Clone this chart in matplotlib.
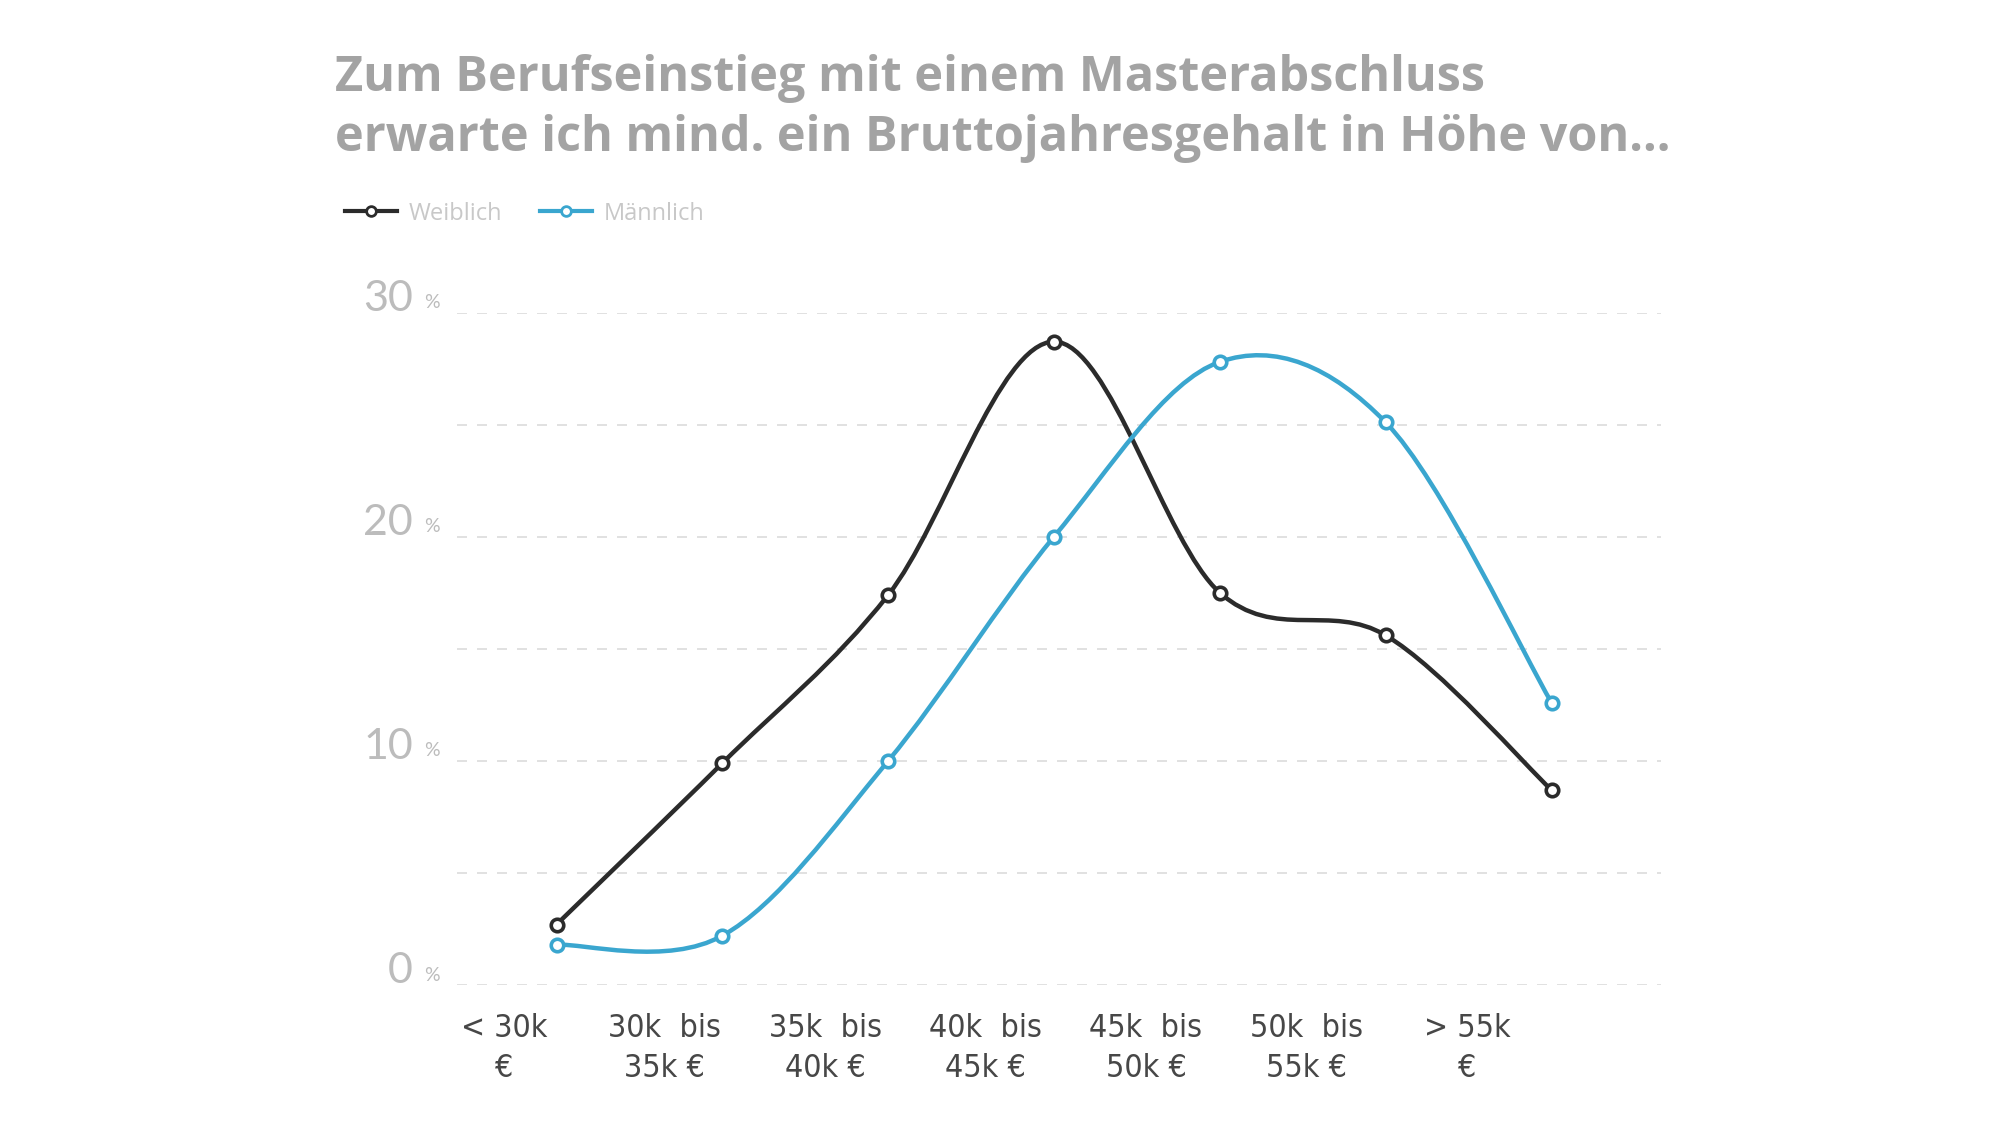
import numpy as np
import matplotlib
matplotlib.use("Agg")
import matplotlib.pyplot as plt
from matplotlib.path import Path
from matplotlib.patches import PathPatch
from matplotlib.lines import Line2D
import matplotlib.transforms as mtransforms

# --- Données ---
categories = ["< 30k\n€", "30k  bis\n35k €", "35k  bis\n40k €", "40k  bis\n45k €",
              "45k  bis\n50k €", "50k  bis\n55k €", "> 55k\n€"]
weiblich = [2.7, 9.9, 17.4, 28.7, 17.5, 15.6, 8.7]
maennlich = [1.8, 2.2, 10.0, 20.0, 27.8, 25.1, 12.6]
y_ticks = [0, 10, 20, 30]
grid_lines = [0, 5, 10, 15, 20, 25, 30]

titel = "Zum Berufseinstieg mit einem Masterabschluss\nerwarte ich mind. ein Bruttojahresgehalt in Höhe von..."

col_black = "#2b2b2b"
col_blue = "#3aa6cf"


def spline_path(xs, ys):
    # courbe cardinale (Catmull-Rom) en segments de Bézier
    pts = np.column_stack([xs, ys]).astype(float)
    n = len(pts)
    verts = [pts[0]]
    codes = [Path.MOVETO]
    for i in range(n - 1):
        p0 = pts[i - 1] if i > 0 else pts[i]
        p1 = pts[i]
        p2 = pts[i + 1]
        p3 = pts[i + 2] if i + 2 < n else pts[i + 1]
        c1 = p1 + (p2 - p0) / 6
        c2 = p2 - (p3 - p1) / 6
        verts += [c1, c2, p2]
        codes += [Path.CURVE4] * 3
    return Path(verts, codes)


fig = plt.figure(figsize=(20, 11.25), dpi=100)
ax = fig.add_axes([0.2285, 0.1244, 0.602, 0.5978])

x = np.arange(len(categories))

# grille pointillée
for g in grid_lines:
    ax.axhline(g, color="#dcdcdc", lw=1.2, ls=(0, (6, 6)), zorder=0)

for vals, col in [(weiblich, col_black), (maennlich, col_blue)]:
    ax.add_patch(PathPatch(spline_path(x, vals), fill=False, edgecolor=col, lw=3.2,
                           zorder=3, clip_on=False))
    ax.plot(x, vals, ls="none", marker="o", ms=9, mfc="white", mec=col, mew=2.6,
            zorder=4, clip_on=False)

ax.set_xlim(-0.6, 6.66)
ax.set_ylim(0, 30)
for s in ax.spines.values():
    s.set_visible(False)
ax.set_xticks([])
ax.set_yticks([])

# étiquettes de l'axe y : nombre + petit "%"
ytrans = mtransforms.blended_transform_factory(ax.transAxes, ax.transData)
for t in y_ticks:
    ax.annotate(str(t), xy=(0, t), xycoords=ytrans, xytext=(-44, 14), textcoords="offset pixels",
                ha="right", va="center", fontsize=31, color="#bcbcbc", family="Lato")
    ax.annotate("%", xy=(0, t), xycoords=ytrans, xytext=(-33, 10), textcoords="offset pixels",
                ha="left", va="center", fontsize=14, color="#bcbcbc", family="Lato")

# étiquettes des catégories (axe jumeau pour leur propre espacement)
ax2 = ax.twiny()
ax2.set_xlim(-0.293, 7.209)
ax2.set_xticks(x)
ax2.set_xticklabels(categories, fontsize=23, color="#474747",
                    family="DejaVu Sans", fontstretch="condensed", linespacing=1.4)
ax2.xaxis.set_ticks_position("bottom")
ax2.xaxis.set_label_position("bottom")
ax2.tick_params(axis="x", length=0, pad=20)
for s in ax2.spines.values():
    s.set_visible(False)

# titre
fig.text(0.1675, 0.952, titel, ha="left", va="top", fontsize=35, fontweight="bold",
         color="#a3a3a3", family="Open Sans", linespacing=1.3)

# légende
handles = [
    Line2D([], [], color=col_black, lw=3, marker="o", ms=7, mfc="white", mec=col_black, mew=2),
    Line2D([], [], color=col_blue, lw=3, marker="o", ms=7, mfc="white", mec=col_blue, mew=2),
]
fig.legend(handles, ["Weiblich", "Männlich"], loc="center left", bbox_to_anchor=(0.162, 0.81),
           ncol=2, frameon=False, labelcolor="#c8c8c8", handlelength=2.2,
           handletextpad=0.5, columnspacing=1.6, prop={"family": "Open Sans", "size": 17})

plt.savefig("out.png", dpi=100)
